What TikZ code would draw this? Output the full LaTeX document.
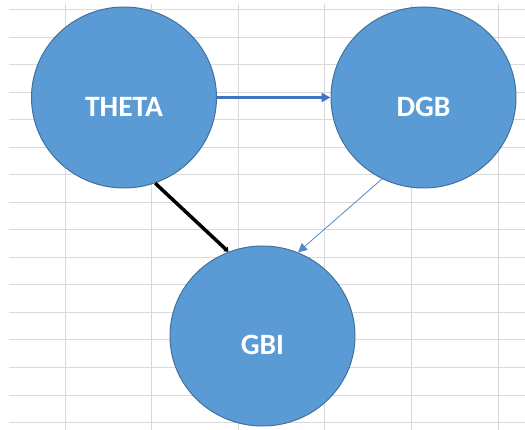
\documentclass[tikz,border=0pt]{standalone}
\usepackage{fontspec}
\setmainfont{Carlito}
\usetikzlibrary{shapes.geometric,arrows.meta}
\definecolor{cellline}{HTML}{D9D9D9}
\definecolor{shapefill}{HTML}{5B9BD5}
\definecolor{shapeedge}{HTML}{41719C}
\definecolor{linkblue}{HTML}{4472C4}
\newcommand{\bubbletext}[1]{\raisebox{-19pt}[0pt][0pt]{#1}}
\tikzset{
  bubble/.style={ellipse,draw=shapeedge,fill=shapefill,line width=1pt,
    minimum width=185pt,minimum height=181pt,inner sep=0pt,
    text=white,font=\fontsize{29.5}{31}\selectfont\bfseries},
  gridline/.style={draw=cellline,line width=1pt}
}
\begin{document}
\begin{tikzpicture}[x=1pt,y=-1pt]
      \useasboundingbox (0,0) rectangle (525,430);
      % sheet grid
      \foreach \r in {0,...,15}
        \draw[gridline] (9,10+27.5*\r) -- (525,10+27.5*\r);
      \foreach \c in {0,...,5}
        \draw[gridline] (65+86.6*\c,4) -- (65+86.6*\c,430);
      \draw
        (124,97.5) node[bubble] (theta){\bubbletext{THETA}}
        (423.5,97.5) node[bubble] (dgb){\bubbletext{DGB}}
        (262.5,336) node[bubble,minimum height=180pt] (gbi){\bubbletext{GBI}};
      \begin{scope}[-{Triangle[length=9pt,width=9pt]}]
        \draw[linkblue,line width=2.4pt] (theta) to (dgb);
        \draw[shapefill!90!black,line width=0.8pt] (dgb.-117) to (gbi.67.6);
        \draw[black,line width=3.5pt,-{Triangle[length=4pt,width=6pt]}] (theta.-70) to (gbi.112);
      \end{scope}
    \end{tikzpicture}
\end{document}
